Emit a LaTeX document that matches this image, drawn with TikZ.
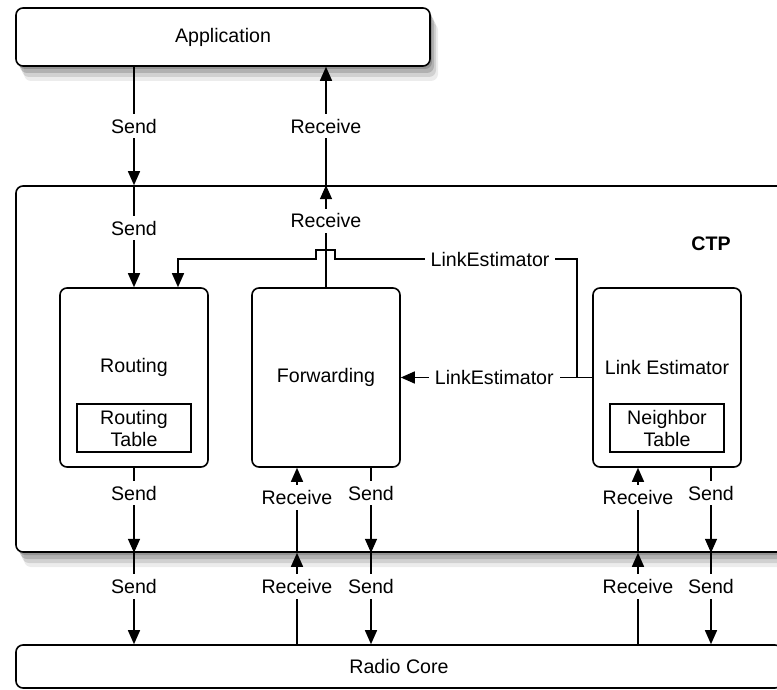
\documentclass[tikz,border=0pt]{standalone}
\usepackage{fontspec}
\setmainfont{Liberation Sans}
\usetikzlibrary{arrows.meta,positioning,shadows}

\begin{document}
\begin{tikzpicture}[x=0.5pt,y=-0.5pt,>={Triangle[length=7pt,width=6pt]},
  every node/.style={font=\fontsize{9.8}{11}\selectfont},
  layer/.style={draw,line width=0.8pt,rounded corners=3.5pt,fill=white,
    drop shadow={shadow xshift=4pt,shadow yshift=-7.5pt,opacity=0.15},
    drop shadow={shadow xshift=3pt,shadow yshift=-5.5pt,opacity=0.25},
    drop shadow={shadow xshift=2pt,shadow yshift=-3.5pt,opacity=0.4},
    drop shadow={shadow xshift=1pt,shadow yshift=-1.5pt,opacity=0.6}},
  module/.style={draw,line width=0.8pt,rounded corners=3.5pt,fill=white,
    minimum width=74pt,minimum height=89.5pt},
  tablebox/.style={draw,line width=0.8pt,minimum width=57pt,minimum height=24pt,
    align=center,inner sep=0pt},
  lbl/.style={fill=white,inner xsep=3pt,inner ysep=2.5pt},
  wire/.style={->,line width=0.75pt}]
\useasboundingbox (0,0) rectangle (777,690);
\clip (0,0) rectangle (777,690);
% layers
\node[layer,minimum width=207pt,minimum height=29pt] (app) at (223,37) {Application};
\node[layer,minimum width=387pt,minimum height=183pt] (ctp) at (403,369) {};
\node[font=\fontsize{9.8}{11}\selectfont\bfseries] (ctptxt) at (711,244) {CTP};
\node[draw,line width=0.8pt,rounded corners=3.5pt,fill=white,
  minimum width=383pt,minimum height=21.5pt] (radio) at (399,666.5) {Radio Core};
% modules
\node[module] (routing) at (134,377.5) {};
\node (routingtxt) at (134,367) {Routing};
\node[tablebox] (rtable) at (134,428) {Routing\\Table};
\node[module] (fwd) at (326,377.5) {Forwarding};
\node[module] (linkest) at (667,377.5) {};
\node (linkesttxt) at (667,367) {Link Estimator};
\node[tablebox] (ntable) at (667,428) {Neighbor\\Table};
% wiring points
\coordinate (junc) at ([xshift=-7.5pt]linkest.west);
\coordinate (rtin) at ([xshift=22pt]routing.north);
\coordinate (lehi) at ([yshift=14pt]rtin);
\coordinate (fwdrx) at ([xshift=-14.5pt]fwd.south);
\coordinate (fwdsx) at ([xshift=22.5pt]fwd.south);
\coordinate (lerx) at ([xshift=-14.5pt]linkest.south);
\coordinate (lesx) at ([xshift=22pt]linkest.south);
% application <-> ctp
\draw[wire] (app.south -| routing) -- node[lbl]{Send} (ctp.north -| routing);
\draw[wire] (ctp.north -| fwd) -- node[lbl]{Receive} (app.south -| fwd);
\draw[wire] (ctp.north -| routing) -- node[lbl,pos=0.42]{Send} (routing.north);
\draw[wire] (fwd.north) -- node[lbl,pos=0.65]{Receive} (ctp.north -| fwd);
% link estimator
\draw[wire] (linkest.west) -- (junc) -- node[lbl,pos=0.47]{LinkEstimator} (fwd.east);
\draw[wire] (junc) -- (junc |- lehi) -- node[lbl,pos=0.36]{LinkEstimator} ++(-242,0)
  -- ++(0,-9) -- ++(-19,0) -- ++(0,9) -- (lehi) -- (rtin);
% ctp <-> radio core
\draw[wire] (routing.south) -- node[lbl,pos=0.3]{Send} (ctp.south -| routing);
\draw[wire] (ctp.south -| routing) -- node[lbl,pos=0.37]{Send} (radio.north -| routing);
\foreach \rx/\sx in {fwdrx/fwdsx,lerx/lesx}{
  \draw[wire] (ctp.south -| \rx) -- node[lbl,pos=0.65]{Receive} (\rx);
  \draw[wire] (radio.north -| \rx) -- node[lbl,pos=0.63]{Receive} (ctp.south -| \rx);
  \draw[wire] (\sx) -- node[lbl,pos=0.3]{Send} (ctp.south -| \sx);
  \draw[wire] (ctp.south -| \sx) -- node[lbl,pos=0.37]{Send} (radio.north -| \sx);
}
\end{tikzpicture}
\end{document}
